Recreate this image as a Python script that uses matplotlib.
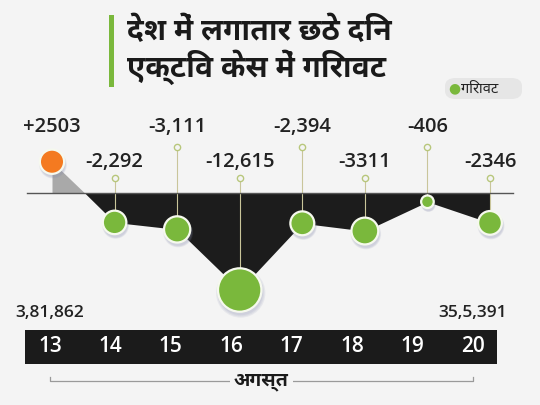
import matplotlib
matplotlib.use("Agg")
import matplotlib.pyplot as plt
import numpy as np
from matplotlib import font_manager
from matplotlib.ft2font import FT2Font
from matplotlib.patches import Rectangle, FancyBboxPatch

# data
days = [13, 14, 15, 16, 17, 18, 19, 20]
changes = [2503, -2292, -3111, -12615, -2394, -3311, -406, -2346]
labels = ["+2503", "-2,292", "-3,111", "-12,615", "-2,394", "-3311", "-406", "-2346"]
total_start = "3,81,862"
total_end = "35,5,391"
title = "देश में लगातार छठे दिन\nएक्टिव केस में गिरावट"
legend_text = "गिरावट"
month = "अगस्त"

# find fonts that have devanagari, prefer one with a bold face
cands = {}
for f in font_manager.fontManager.ttflist:
    try:
        if 0x0917 in FT2Font(f.fname).get_charmap():
            w = f.weight if isinstance(f.weight, int) else 400
            cands[f.name] = max(cands.get(f.name, 0), w)
    except Exception:
        pass
deva = None
if cands:
    pref = [n for n in cands if "Devanagari" in n]
    pool = pref if pref else list(cands)
    deva = max(pool, key=lambda n: cands[n])
hfont = [deva, "DejaVu Sans"] if deva else ["DejaVu Sans"]
nfont = ["Open Sans", "DejaVu Sans"]

bg = "#f4f4f4"
green = "#7ab83c"
orange = "#f47a20"
ink = "#222222"
W, H = 540, 405

fig = plt.figure(figsize=(5.4, 4.05), dpi=100, facecolor=bg)

def fx(px):
    return px / W

def fy(px):
    return 1 - px / H

# power scale so the big drop does not swallow the chart
p = 0.7
fwd = lambda v: np.sign(v) * np.abs(v) ** p
inv = lambda t: np.sign(t) * np.abs(t) ** (1 / p)

ax = fig.add_axes([0, 0, 1, 1])
ax.set_facecolor("none")
ax.set_yscale("function", functions=(fwd, inv))
# x: 13 -> 52px, 20 -> 490px ; y: 0 -> 193px, 12615 -> 97px below
dx = (490 - 52) / 7
ax.set_xlim(13 - 52 / dx, 13 + (W - 52) / dx)
k = 97 / fwd(12615)
ax.set_ylim(inv(-(H - 193) / k), inv(193 / k))
ax.axis("off")

d = np.array(days, float)
v = np.array(changes, float)
ax.fill_between(d, v, 0, where=v <= 0, interpolate=True, color="#1c1c1c", lw=0, zorder=2)
ax.fill_between(d, v, 0, where=v >= 0, interpolate=True, color="#a9a9a9", lw=0, zorder=2)
ax.plot([13 - 25 / dx, 20 + 23 / dx], [0, 0], color="#555555", lw=1, zorder=3)

# stems and labels
trans = ax.get_xaxis_transform()
for i, (x, val, lab) in enumerate(zip(days, changes, labels)):
    if i == 0:
        ax.text(x, fy(127), lab, transform=trans, ha="center", va="center",
                fontsize=14.5, color=ink, fontweight="semibold", family=nfont)
        continue
    top = 147 if i % 2 == 0 else 178
    txt = 127 if i % 2 == 0 else 162
    ty = inv((193 - top) / k)
    ax.plot([x, x], [val, ty], color="#c9c59a", lw=0.8, zorder=2.5)
    ax.plot(x, ty, "o", ms=4.5, mfc=bg, mec="#b8c77c", mew=1, zorder=4)
    ax.text(x, fy(txt), lab, transform=trans, ha="center", va="center",
            fontsize=14.5, color=ink, fontweight="semibold", family=nfont)

# dots with soft shadow
rad = 6.3 * (np.abs(v) / 406) ** 0.36
sz = (1.44 * rad) ** 2
cols = [orange if c > 0 else green for c in changes]
for j in range(3):
    ax.scatter(d + 1 / dx, inv(fwd(v) - 3 / k), s=sz * (1.05 + 0.12 * j), color="#8a8fb0",
               alpha=0.13, lw=0, zorder=4.5)
ax.scatter(d, v, s=sz, c=cols, edgecolors="#f6f9ee", linewidths=1.6, zorder=5)

# title block
fig.patches.append(Rectangle((fx(109), fy(87)), fx(5), (87 - 15) / H,
                             transform=fig.transFigure, color=green, lw=0))
fig.text(fx(127), fy(51), title, ha="left", va="center", fontsize=21.5,
         fontweight="bold", color="#1a1a1a", family=hfont, linespacing=1.12)

# legend pill
fig.patches.append(FancyBboxPatch((fx(445), fy(99)), fx(77), 21 / H,
                                  boxstyle="round,pad=0,rounding_size=0.02",
                                  transform=fig.transFigure, fc="#e6e6e6", ec="none"))
fig.text(fx(454), fy(88), "●", ha="center", va="center", fontsize=10, color=green)
fig.text(fx(461), fy(88), legend_text, ha="left", va="center", fontsize=10.5,
         color=ink, family=hfont)

# bottom date bar
bx = fig.add_axes([fx(25), fy(364), fx(497 - 25), (364 - 330) / H])
bx.set_facecolor("#1b1b1b")
bdx = (473 - 50) / 7
bx.set_xlim(13 - 25 / bdx, 20 + 24 / bdx)
bx.set_ylim(0, 1)
bx.set_xticks([])
bx.set_yticks([])
for s in bx.spines.values():
    s.set_visible(False)
for x in days:
    bx.text(x, 0.5, str(x), ha="center", va="center", color="white",
            fontsize=15, fontweight="semibold", family=nfont)
bx.text(days[0], 1.5, total_start, ha="center", va="center", fontsize=12.5,
        color=ink, fontweight="semibold", family=nfont, clip_on=False)
bx.text(days[-1], 1.5, total_end, ha="center", va="center", fontsize=12.5,
        color=ink, fontweight="semibold", family=nfont, clip_on=False)

# month bracket
bx.plot([days[0], days[0], days[-1], days[-1]], [-0.38, -0.5, -0.5, -0.38],
        color="#9a9a9a", lw=0.9, clip_on=False)
bx.text((days[0] + days[-1]) / 2, -0.52, month, ha="center", va="center",
        fontsize=14, fontweight="bold", color="#1a1a1a", family=hfont,
        bbox=dict(fc=bg, ec="none", pad=3), clip_on=False)

fig.savefig("out.png", dpi=100, facecolor=bg)
